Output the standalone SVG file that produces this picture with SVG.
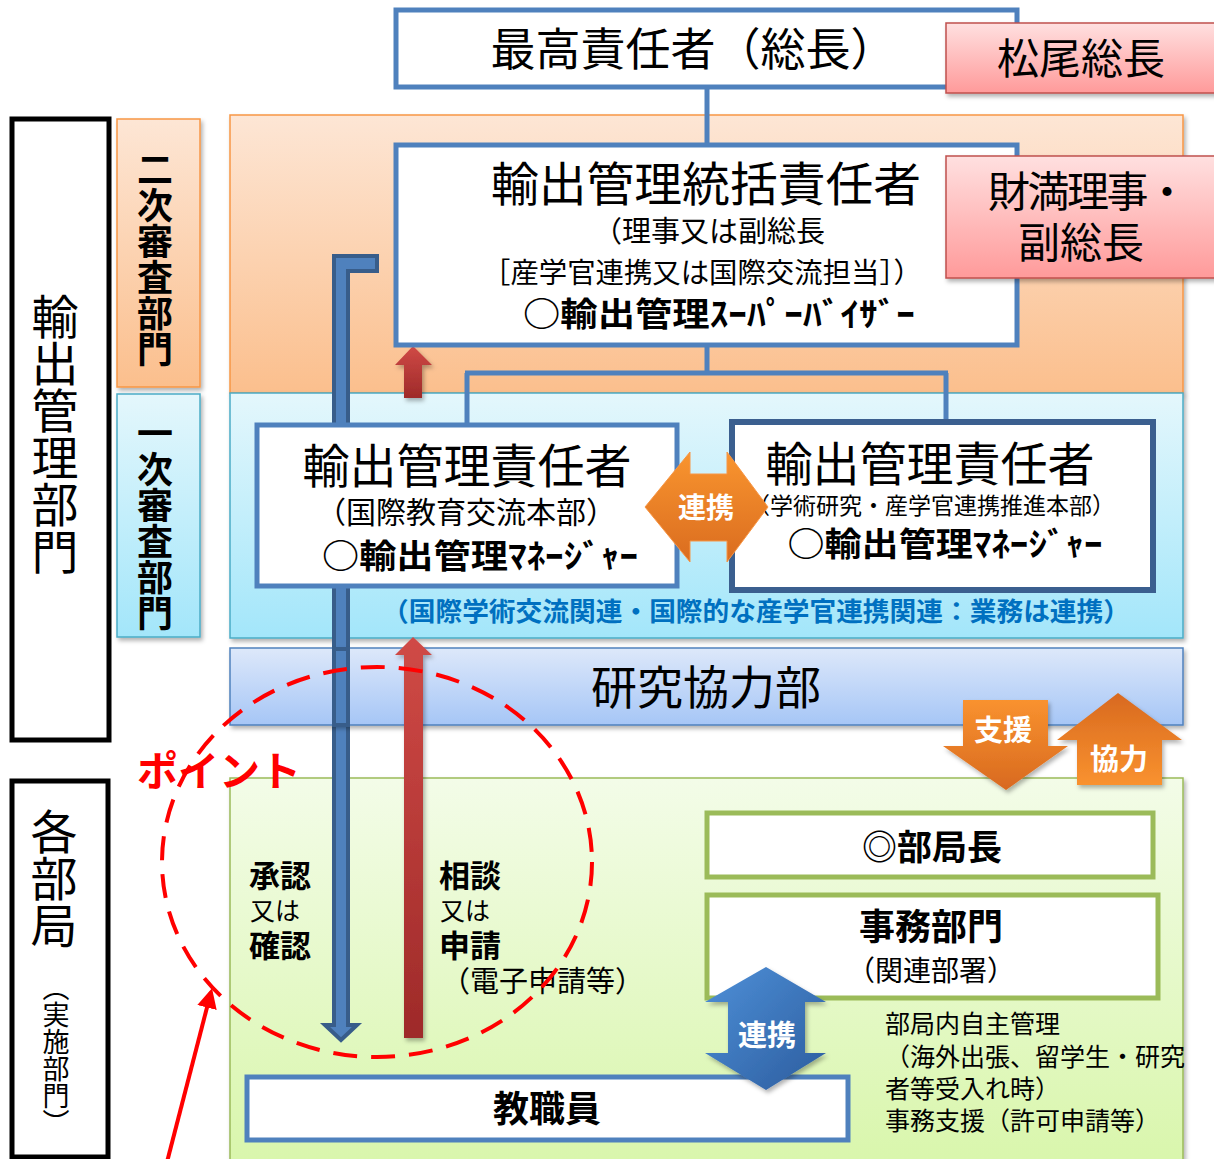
<svg xmlns="http://www.w3.org/2000/svg" width="1214" height="1159" viewBox="0 0 1214 1159">
<defs>
  <linearGradient id="gRed" x1="0" y1="0" x2="0" y2="1">
    <stop offset="0" stop-color="#FFE0E0"/><stop offset="1" stop-color="#FF9A9A"/>
  </linearGradient>
  <linearGradient id="gOrange" x1="0" y1="0" x2="0" y2="1">
    <stop offset="0" stop-color="#FDE6D5"/><stop offset="1" stop-color="#FBBF8D"/>
  </linearGradient>
  <linearGradient id="gCyan" x1="0" y1="0" x2="0" y2="1">
    <stop offset="0" stop-color="#E4F7FC"/><stop offset="1" stop-color="#A3E6FA"/>
  </linearGradient>
  <linearGradient id="gBlueBand" x1="0" y1="0" x2="0" y2="1">
    <stop offset="0" stop-color="#DDE8FA"/><stop offset="1" stop-color="#A6C6F6"/>
  </linearGradient>
  <linearGradient id="gGreen" x1="0" y1="0" x2="0" y2="1">
    <stop offset="0" stop-color="#F3FCE8"/><stop offset="1" stop-color="#D9F6AC"/>
  </linearGradient>
  <linearGradient id="gRedArrow" x1="0" y1="0" x2="0" y2="1">
    <stop offset="0" stop-color="#D04A46"/><stop offset="1" stop-color="#9E2A29"/>
  </linearGradient>
  <linearGradient id="gOrArrowDown" x1="0" y1="0" x2="0" y2="1">
    <stop offset="0" stop-color="#F9922F"/><stop offset="1" stop-color="#D8691F"/>
  </linearGradient>
  <linearGradient id="gOrArrowUp" x1="0" y1="0" x2="0" y2="1">
    <stop offset="0" stop-color="#D8691F"/><stop offset="1" stop-color="#F9922F"/>
  </linearGradient>
  <linearGradient id="gOrH" x1="0" y1="0" x2="0" y2="1">
    <stop offset="0" stop-color="#F9952F"/><stop offset="1" stop-color="#DA6C1F"/>
  </linearGradient>
  <linearGradient id="gBlueArrow" x1="0" y1="0" x2="1" y2="1">
    <stop offset="0" stop-color="#4E90D8"/><stop offset="1" stop-color="#2C5C9E"/>
  </linearGradient>
  <filter id="sh" x="-10%" y="-10%" width="130%" height="130%">
    <feDropShadow dx="2" dy="3" stdDeviation="2" flood-color="#000" flood-opacity="0.3"/>
  </filter>
  <marker id="mRed" viewBox="0 0 10 10" refX="8" refY="5" markerWidth="5" markerHeight="5" orient="auto" markerUnits="strokeWidth">
    <path d="M0 0 L10 5 L0 10 Z" fill="#FF0000"/>
  </marker>
</defs>
<style>
  text { font-family: "Noto Sans CJK JP", "Noto Sans CJK SC", sans-serif; fill: #000; }
  .b { font-weight: 700; }
  .w { fill: #fff; font-weight: 700; }
  .c { text-anchor: middle; }
  .vt { writing-mode: vertical-rl; }
  .box { fill: #fff; stroke: #4F81BD; stroke-width: 5; }
  .gbox { fill: #fff; stroke: #9BBB59; stroke-width: 5; }
  .redbox { fill: url(#gRed); stroke: #C0504D; stroke-width: 1.5; }
  .conn { fill: none; stroke: #4F81BD; stroke-width: 5; }
  .blk { fill: #fff; stroke: #000; stroke-width: 5; }
</style>

<!-- background bands -->
<g id="bands">
  <rect id="band-secondary" x="230" y="115" width="953" height="278" fill="url(#gOrange)" stroke="#F79646" stroke-width="1.5" filter="url(#sh)"/>
  <rect id="band-primary" x="230" y="393" width="953" height="245" fill="url(#gCyan)" stroke="#4BACC6" stroke-width="1.5" filter="url(#sh)"/>
  <rect id="band-green" x="230" y="778" width="953" height="385" fill="url(#gGreen)" stroke="#9BBB59" stroke-width="1.5" filter="url(#sh)"/>
</g>

<!-- left column -->
<g id="export-dept">
  <rect class="blk" x="12" y="119" width="97" height="621"/>
  <text class="vt" x="55" y="293" font-size="47">輸出管理部門</text>
</g>
<g id="secondary-review">
  <rect x="117" y="119" width="83" height="268" fill="url(#gOrange)" stroke="#F79646" stroke-width="1.5" filter="url(#sh)"/>
  <text class="vt b" x="155" y="151" font-size="36">二次審査部門</text>
</g>
<g id="primary-review">
  <rect x="117" y="394" width="83" height="243" fill="url(#gCyan)" stroke="#4BACC6" stroke-width="1.5" filter="url(#sh)"/>
  <text class="vt b" x="155" y="415" font-size="36">一次審査部門</text>
</g>
<g id="departments">
  <rect class="blk" x="12" y="781" width="96" height="376"/>
  <text class="vt" x="54" y="808" font-size="47">各部局</text>
  <text class="vt" x="56" y="974" font-size="27">（実施部門）</text>
</g>

<!-- tree connectors -->
<g id="connectors">
  <path class="conn" d="M707 87 V147"/>
  <path class="conn" d="M707 343 V373 M465 373 H948 M467 373 V427 M946 373 V424"/>
</g>

<!-- flow arrows (behind boxes) -->
<g id="flow-arrows">
  <polygon points="404,398 422,398 422,365 432,365 413,346 395,365 404,365" fill="url(#gRedArrow)" filter="url(#sh)"/>
  <polygon points="377,256 334,256 334,1025 325,1025 341,1040 357,1025 348,1025 348,271 377,271" fill="#4F81BD" stroke="#385D8A" stroke-width="4" stroke-linejoin="miter"/>
</g>

<!-- research cooperation band -->
<g id="research-coop">
  <rect x="230" y="648" width="953" height="77" fill="url(#gBlueBand)" stroke="#4F81BD" stroke-width="1.5" filter="url(#sh)"/>
  <text class="c" x="706" y="704" font-size="46">研究協力部</text>
</g>
<g id="flow-arrows-over">
  <polygon points="404,1038 423,1038 423,655 432,655 413,637 395,655 404,655" fill="url(#gRedArrow)" filter="url(#sh)"/>
  <rect x="334" y="649" width="14" height="76" fill="#4F81BD" stroke="#385D8A" stroke-width="4"/>
</g>

<!-- top nodes -->
<g id="president">
  <rect class="box" x="396" y="10" width="621" height="77"/>
  <text class="c" x="693" y="66" font-size="45">最高責任者（総長）</text>
</g>
<g id="president-name">
  <rect class="redbox" x="946" y="23" width="272" height="70" filter="url(#sh)"/>
  <text class="c" x="1081" y="74" font-size="42">松尾総長</text>
</g>
<g id="chief-export">
  <rect class="box" x="396" y="145" width="621" height="200"/>
  <text class="c" x="706" y="201" font-size="47" textLength="430" lengthAdjust="spacingAndGlyphs">輸出管理統括責任者</text>
  <text class="c" x="709" y="242" font-size="29">（理事又は副総長</text>
  <text class="c" x="702" y="283" font-size="28" textLength="440" lengthAdjust="spacingAndGlyphs">［産学官連携又は国際交流担当］）</text>
  <text class="c b" x="719" y="326" font-size="33" textLength="392" lengthAdjust="spacingAndGlyphs">○輸出管理ｽｰﾊﾟｰﾊﾞｲｻﾞｰ</text>
</g>
<g id="chief-name">
  <rect class="redbox" x="946" y="156" width="272" height="122" filter="url(#sh)"/>
  <text class="c" x="1088" y="207" font-size="42" textLength="200" lengthAdjust="spacing">財満理事・</text>
  <text class="c" x="1081" y="258" font-size="42">副総長</text>
</g>

<!-- managers -->
<g id="manager-left">
  <rect class="box" x="257" y="425" width="420" height="161"/>
  <text class="c" x="467" y="483" font-size="47">輸出管理責任者</text>
  <text class="c" x="466" y="523" font-size="30">（国際教育交流本部）</text>
  <text class="c b" x="480" y="568" font-size="33" textLength="316" lengthAdjust="spacingAndGlyphs">○輸出管理ﾏﾈｰｼﾞｬｰ</text>
</g>
<g id="manager-right">
  <rect x="732" y="422" width="421" height="168" fill="#fff" stroke="#3B5F8F" stroke-width="6"/>
  <text class="c" x="930" y="481" font-size="47">輸出管理責任者</text>
  <text class="c" x="931" y="514" font-size="23">（学術研究・産学官連携推進本部）</text>
  <text class="c b" x="945" y="556" font-size="33" textLength="315" lengthAdjust="spacingAndGlyphs">○輸出管理ﾏﾈｰｼﾞｬｰ</text>
</g>
<g id="link-managers">
  <polygon points="645,507 690,452 690,474 727,474 727,452 768,507 727,562 727,541 690,541 690,562" fill="url(#gOrH)" stroke="#F79646" stroke-width="1"/>
  <text class="w c" x="706" y="518" font-size="28">連携</text>
</g>
<text id="note-blue" class="b" x="382" y="621" font-size="26" style="fill:#0070C0" textLength="748" lengthAdjust="spacingAndGlyphs">（国際学術交流関連・国際的な産学官連携関連：業務は連携）</text>

<!-- support / cooperation arrows -->
<g id="support-arrow">
  <polygon points="963,700 1048,700 1048,746 1068,746 1006,790 943,746 963,746" fill="url(#gOrArrowDown)" filter="url(#sh)"/>
  <text class="w c" x="1003" y="741" font-size="29">支援</text>
</g>
<g id="coop-arrow">
  <polygon points="1118,693 1182,740 1162,740 1162,785 1077,785 1077,740 1057,740" fill="url(#gOrArrowUp)" filter="url(#sh)"/>
  <text class="w c" x="1119" y="770" font-size="29">協力</text>
</g>

<!-- department nodes -->
<g id="dept-head">
  <rect class="gbox" x="707" y="813" width="446" height="64"/>
  <text class="c b" x="932" y="860" font-size="35">◎部局長</text>
</g>
<g id="admin-dept">
  <rect class="gbox" x="707" y="895" width="451" height="103"/>
  <text class="c b" x="931" y="940" font-size="36">事務部門</text>
  <text class="c" x="931" y="981" font-size="28">（関連部署）</text>
</g>
<g id="staff">
  <rect class="box" x="247" y="1077" width="601" height="63"/>
  <text class="c b" x="547" y="1122" font-size="36">教職員</text>
</g>
<g id="link-dept">
  <polygon points="766,967 826,1002 805,1002 805,1053 826,1053 766,1090 705,1053 728,1053 728,1002 705,1002" fill="url(#gBlueArrow)" filter="url(#sh)"/>
  <text class="w c" x="767" y="1046" font-size="29">連携</text>
</g>
<g id="dept-notes">
  <text x="885" y="1033" font-size="25">部局内自主管理</text>
  <text x="885" y="1066" font-size="25">（海外出張、留学生・研究</text>
  <text x="885" y="1098" font-size="25">者等受入れ時）</text>
  <text x="885" y="1130" font-size="25">事務支援（許可申請等）</text>
</g>

<!-- flow labels -->
<g id="approval-label">
  <text class="b" x="249" y="887" font-size="31">承認</text>
  <text x="250" y="920" font-size="25">又は</text>
  <text class="b" x="249" y="957" font-size="31">確認</text>
</g>
<g id="request-label">
  <text class="b" x="439" y="887" font-size="31">相談</text>
  <text x="440" y="920" font-size="25">又は</text>
  <text class="b" x="439" y="957" font-size="31">申請</text>
  <text x="441" y="992" font-size="29">（電子申請等）</text>
</g>

<!-- point highlight -->
<g id="point">
  <ellipse cx="377" cy="862" rx="215" ry="195" fill="none" stroke="#FF0000" stroke-width="4" stroke-dasharray="24 14"/>
  <text class="b" x="137" y="786" font-size="41" style="fill:#FF0000">ポイント</text>
  <line x1="167" y1="1162" x2="211" y2="992" stroke="#FF0000" stroke-width="4" marker-end="url(#mRed)"/>
</g>
</svg>
